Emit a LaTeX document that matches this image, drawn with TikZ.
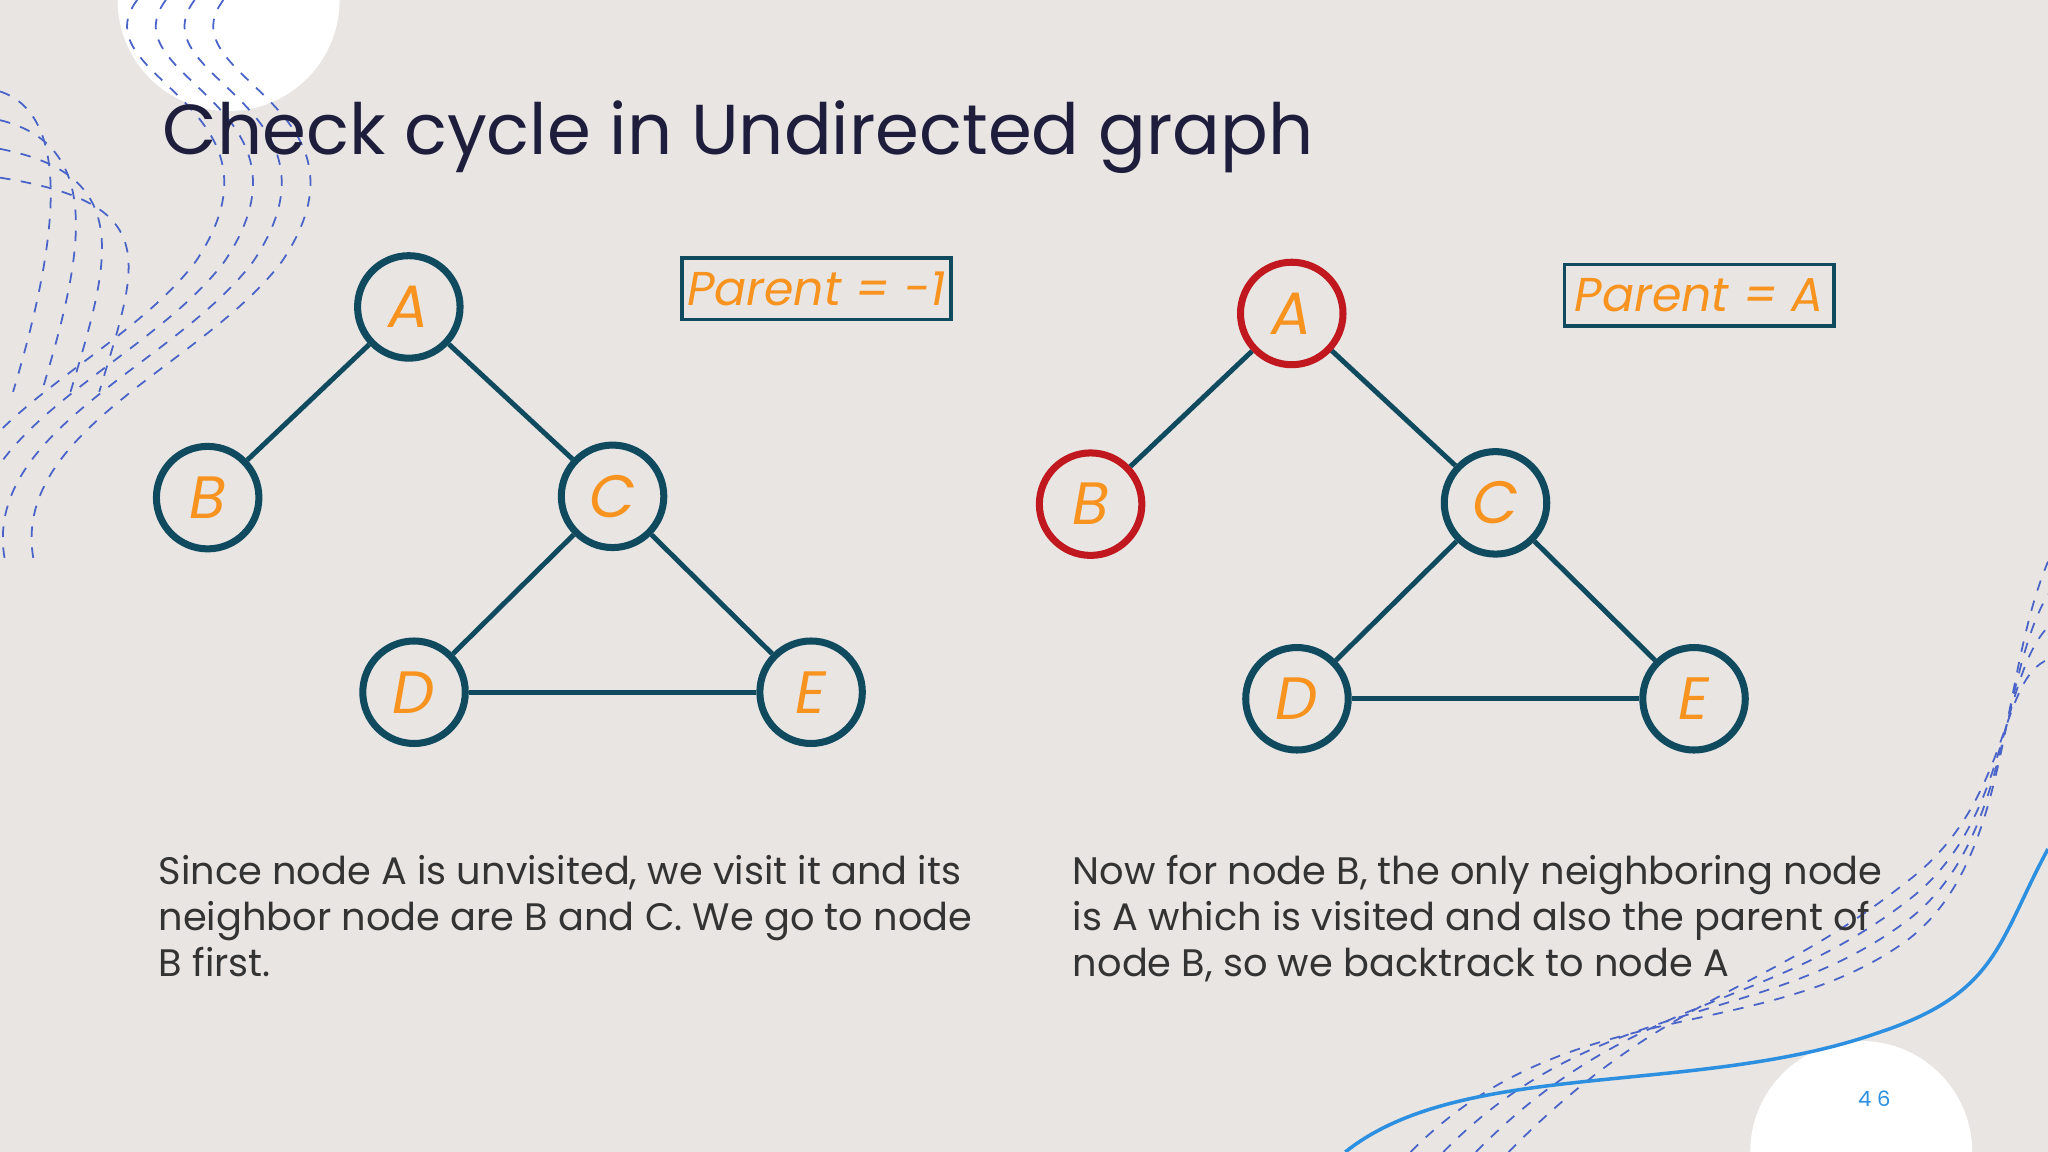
\documentclass[tikz,border=0pt]{standalone}
\usepackage{fontspec}
\setmainfont{Poppins}
\usetikzlibrary{positioning}
\definecolor{bg}{HTML}{E8E5E3}
\definecolor{navy}{HTML}{1E1E3C}
\definecolor{teal}{HTML}{0F4A5E}
\definecolor{hand}{HTML}{F7931E}
\definecolor{redn}{HTML}{C0181E}
\definecolor{wave}{HTML}{4A63C8}
\definecolor{sky}{HTML}{2C8FE0}
\begin{document}
\begin{tikzpicture}[x=0.013061cm,y=-0.013061cm,
  vtx/.style={circle,draw=teal,line width=2pt,minimum size=2.05cm*0.5,inner sep=0pt,
    text=hand,font=\fontsize{17}{17}\selectfont\itshape},
  visited/.style={vtx,draw=redn},
  edge/.style={draw=teal,line width=1.4pt},
  parentbox/.style={draw=teal,line width=1pt,minimum width=206*0.013061cm,minimum height=47*0.013061cm,
    inner sep=0pt,text=hand,font=\fontsize{13.5}{13.5}\selectfont\itshape},
  caption/.style={anchor=north west,align=left,text=black!80,font=\fontsize{10.9}{13.1}\selectfont},
  deco/.style={draw=wave,dashed,line width=0.5pt}]
  \fill[bg] (0,0) rectangle (1568,882);
  \useasboundingbox (0,0) rectangle (1568,882);
  % decorations
  \fill[white] (175,0) circle (85);
  \fill[white] (1425,882) circle (85);
  \foreach \d in {0,22,...,66}{
    \draw[deco] (\d+105,0) .. controls (\d+60,60) and (\d+230,80) .. (\d+150,200)
      .. controls (\d+90,280) and (\d-60,330) .. (\d-40,430);
    \draw[deco] (0,70+\d) .. controls (60+\d,90+\d) and (40+\d,200) .. (10+\d,300);
  }
  \foreach \d in {0,25,...,75}{
    \draw[deco] (1080+\d,882) .. controls (1200+\d,760) and (1350,800-\d*0.5) .. (1460,720-\d*0.6)
      .. controls (1540,660-\d*0.6) and (1530,520) .. (1568,430+\d);
  }
  \draw[sky,line width=1pt] (1030,882) .. controls (1120,810) and (1300,840) .. (1440,790)
    .. controls (1530,760) and (1530,720) .. (1568,650);
  \node[text=sky,font=\fontsize{6}{6}\selectfont] (pg) at (1435,841) {4 6};
  % title
  \node[anchor=west,text=navy,font=\fontsize{20.1}{20.1}\selectfont] (title) at (115,105) {Check cycle in Undirected graph};
  % left graph
  \node[vtx] (A1) at (313,235) {A};
  \node[vtx] (B1) at (159,381) {B};
  \node[vtx] (C1) at (469,380) {C};
  \node[vtx] (D1) at (317,530) {D};
  \node[vtx] (E1) at (621,530) {E};
  \foreach \u/\v in {A1/B1,A1/C1,C1/D1,C1/E1,D1/E1} \draw[edge] (\u) -- (\v);
  \node[parentbox] (P1) at (625,221) {Parent = -1};
  % right graph
  \node[visited] (A2) at (989,240) {A};
  \node[visited] (B2) at (835,386) {B};
  \node[vtx] (C2) at (1145,385) {C};
  \node[vtx] (D2) at (993,535) {D};
  \node[vtx] (E2) at (1297,535) {E};
  \foreach \u/\v in {A2/B2,A2/C2,C2/D2,C2/E2,D2/E2} \draw[edge] (\u) -- (\v);
  \node[parentbox] (P2) at (1301,226) {Parent = A};
  % captions
  \node[caption] (T1) at (112,645) {Since node A is unvisited, we visit it and its\\neighbor node are B and C. We go to node\\B first.};
  \node[caption] (T2) at (812,645) {Now for node B, the only neighboring node\\is A which is visited and also the parent of\\node B, so we backtrack to node A};
\end{tikzpicture}
\end{document}
